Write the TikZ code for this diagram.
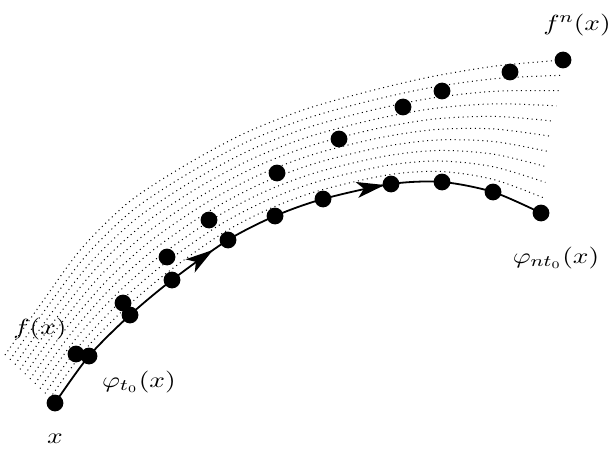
\documentclass[tikz,border=0pt]{standalone}
\usetikzlibrary{calc,arrows.meta,decorations.markings}
\begin{document}
\begin{tikzpicture}[x=0.5pt,y=-0.5pt,
  dot/.style={circle,fill=black,inner sep=0pt,minimum size=8.4pt},
  dotline/.style={line width=0.5pt,dash pattern=on 0.5pt off 1.8pt},
  flow/.style={line width=0.9pt},
  lbl/.style={inner sep=0pt,font=\fontsize{11}{13}\selectfont},
  flowtip/.tip={Stealth[length=14pt,width=8pt,inset=3.5pt]}]
\useasboundingbox (0,0) rectangle (610,449);
% solid flow curve control points
\coordinate (S0) at (55,403);
\coordinate (S1) at (89,356);
\coordinate (S2) at (130,315);
\coordinate (S3) at (172,280);
\coordinate (S4) at (228,240);
\coordinate (S5) at (275,216);
\coordinate (S6) at (323,199);
\coordinate (S7) at (391,184);
\coordinate (S8) at (442,182);
\coordinate (S9) at (493,192);
\coordinate (S10) at (541,213);
% top dotted curve control points
\coordinate (T0) at (5,355);
\coordinate (T1) at (43,301);
\coordinate (T2) at (82,248);
\coordinate (T3) at (129,202);
\coordinate (T4) at (184,166);
\coordinate (T5) at (243,134);
\coordinate (T6) at (303,110);
\coordinate (T7) at (366,92);
\coordinate (T8) at (430,77);
\coordinate (T9) at (496,66);
\coordinate (T10) at (563,60);
% dotted family
\foreach \j in {1,...,10}{
  \draw[dotline] plot[smooth] coordinates {
    ($(S0)!\j/10!(T0)$) ($(S1)!\j/10!(T1)$) ($(S2)!\j/10!(T2)$)
    ($(S3)!\j/10!(T3)$) ($(S4)!\j/10!(T4)$) ($(S5)!\j/10!(T5)$)
    ($(S6)!\j/10!(T6)$) ($(S7)!\j/10!(T7)$) ($(S8)!\j/10!(T8)$)
    ($(S9)!\j/10!(T9)$) ($(S10)!\j/10!(T10)$)};
}
% solid curve with arrows
\draw[flow,postaction={decorate},decoration={markings,
    mark=at position 0.39 with {\arrow{flowtip}},
    mark=at position 0.715 with {\arrow{flowtip}}}]
  plot[smooth] coordinates {(S0) (S1) (S2) (S3) (S4) (S5) (S6) (S7) (S8) (S9) (S10)};
% flow points
\foreach \k in {0,...,10}{ \node[dot] (p\k) at (S\k) {}; }
% iterates of f
\node[dot] (q1) at (76,354) {};
\node[dot] (q2) at (123,303) {};
\node[dot] (q3) at (167,257) {};
\node[dot] (q4) at (209,220) {};
\node[dot] (q5) at (277,173) {};
\node[dot] (q6) at (339,139) {};
\node[dot] (q7) at (403,107) {};
\node[dot] (q8) at (442,91) {};
\node[dot] (q9) at (510,72) {};
\node[dot] (q10) at (563,60) {};
% labels
\node[lbl] (lx) at (55,439) {\scalebox{1.25}[1]{$x$}};
\node[lbl] (lphi) at (139,382) {\scalebox{1.25}[1]{$\varphi_{t_0}(x)$}};
\node[lbl] (lf) at (40,329) {\scalebox{1.25}[1]{$f(x)$}};
\node[lbl] (lfn) at (577,25) {\scalebox{1.25}[1]{$f^n(x)$}};
\node[lbl] (lphin) at (556,258) {\scalebox{1.25}[1]{$\varphi_{nt_0}(x)$}};
\end{tikzpicture}
\end{document}
